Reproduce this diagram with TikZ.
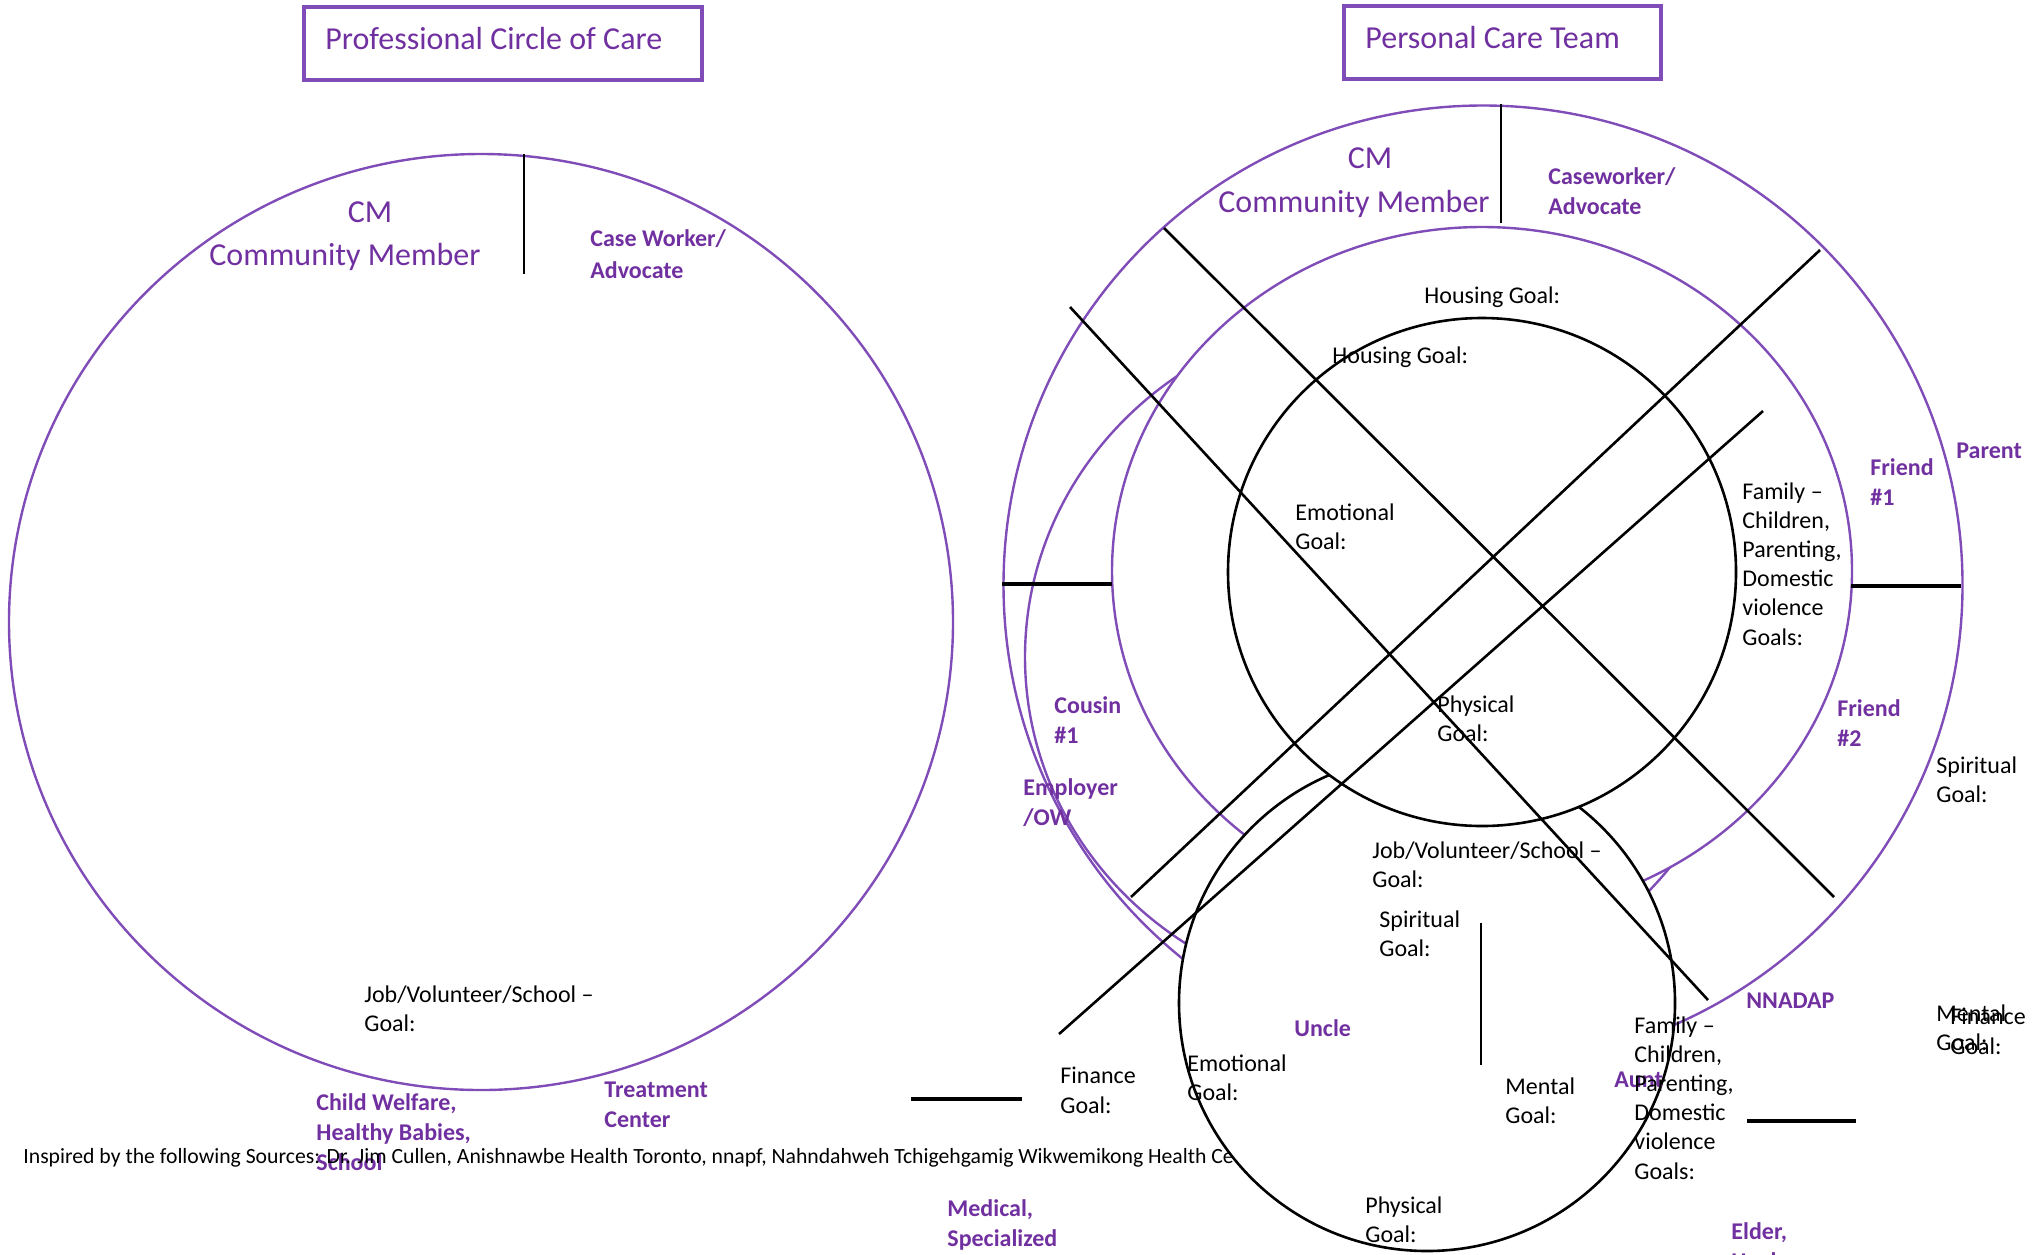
\documentclass[tikz,border=0pt]{standalone}
\usepackage{fontspec}
\setmainfont{Carlito}
\definecolor{purtext}{RGB}{112,48,160}
\definecolor{purring}{RGB}{128,76,184}
\tikzset{
  body/.style={font=\fontsize{12}{14.6}\selectfont, align=left, anchor=north west, inner sep=0pt, text=black},
  plab/.style={font=\fontsize{12}{15}\selectfont\bfseries, align=left, anchor=north west, inner sep=0pt, text=purtext},
  ptitle/.style={font=\fontsize{16}{19}\selectfont, inner sep=0pt, text=purtext},
  footer/.style={font=\fontsize{10.85}{12.5}\selectfont, inner sep=0pt, anchor=base west, text=black},
  ring/.style={draw=purring, line width=1.2pt},
  blk/.style={draw=black, line width=1.3pt},
  thicktick/.style={draw=black, line width=1.8pt},
  tbox/.style={draw=purring, line width=1.6pt},
}
\begin{document}
\begin{tikzpicture}[x=0.5pt,y=-0.5pt]
\useasboundingbox (0,0) rectangle (2032,1254);

% ---------------- Left: Professional Circle of Care ----------------
\coordinate (b1a) at (304,7); \coordinate (b1b) at (702,80);
\draw[tbox] (b1a) rectangle (b1b);
\node[ptitle, anchor=base west] (t1) at (325,49) {Professional Circle of Care};

\coordinate (lc) at (481,622);
\draw[ring] (lc) ellipse [x radius=236pt, y radius=234pt];
\coordinate (lv1) at (524,154); \coordinate (lv2) at (524,274);
\draw[blk] (lv1) -- (lv2);

\node[ptitle, anchor=center] (cm1) at (370,212) {CM};
\node[ptitle, anchor=base] (cmm1) at (345,265) {Community Member};
\node[plab, font=\fontsize{12}{16}\selectfont\bfseries] (cw1) at (590,229) {Case Worker/\\Advocate};
\node[body] (job1) at (364,985) {Job/Volunteer/School –\\Goal:};
\node[plab] (cwf) at (316,1093) {Child Welfare,\\Healthy Babies,\\School};
\node[plab] (tc) at (604,1082) {Treatment\\Center};
\node[footer] (foot) at (23,1163) {Inspired by the following Sources: Dr. Jim Cullen, Anishnawbe Health Toronto, nnapf, Nahndahweh Tchigehgamig Wikwemikong Health Ce};
\node[plab] (med) at (947,1199) {Medical,\\Specialized};
\node[body] (fin1) at (1060,1067) {Finance\\Goal:};
\coordinate (bt1a) at (911,1099); \coordinate (bt1b) at (1022,1099);
\draw[thicktick] (bt1a) -- (bt1b);

% ---------------- Right: Personal Care Team ----------------
\coordinate (b2a) at (1344,6); \coordinate (b2b) at (1661,79);
\draw[tbox] (b2a) rectangle (b2b);
\node[ptitle, anchor=base west] (t2) at (1365,48) {Personal Care Team};

\coordinate (oc) at (1483,585);
\coordinate (mc) at (1482,571);
\coordinate (sc) at (1385,657);
\coordinate (loc) at (1427,1003);
\coordinate (ic) at (1482,572);

\draw[ring] (oc) circle [radius=239.75pt];
\draw[ring] (sc) ellipse [x radius=180pt, y radius=172pt];
\draw[ring, fill=white] (mc) ellipse [x radius=185pt, y radius=172pt];
\draw[blk, fill=white] (loc) circle [radius=124pt];
\draw[blk, fill=white] (ic) circle [radius=127pt];

% ticks
\coordinate (tv1) at (1501,104); \coordinate (tv2) at (1501,223);
\draw[blk] (tv1) -- (tv2);
\coordinate (tl1) at (1002,584); \coordinate (tl2) at (1112,584);
\draw[thicktick] (tl1) -- (tl2);
\coordinate (tr1) at (1851,586); \coordinate (tr2) at (1961,586);
\draw[thicktick] (tr1) -- (tr2);
\coordinate (bt2a) at (1747,1121); \coordinate (bt2b) at (1856,1121);
\draw[thicktick] (bt2a) -- (bt2b);
\coordinate (lv3) at (1481,923); \coordinate (lv4) at (1481,1065);
\draw[blk] (lv3) -- (lv4);

% diagonals
\coordinate (d1a) at (1164,228); \coordinate (d1b) at (1834,897);
\coordinate (d2a) at (1070,307); \coordinate (d2b) at (1708,1000);
\coordinate (d3a) at (1820,250); \coordinate (d3b) at (1131,897);
\coordinate (d4a) at (1763,411); \coordinate (d4b) at (1059,1034);
\draw[blk] (d1a) -- (d1b);
\draw[blk] (d2a) -- (d2b);
\draw[blk] (d3a) -- (d3b);
\draw[blk] (d4a) -- (d4b);

% texts
\node[ptitle, anchor=center] (cm2) at (1370,158) {CM};
\node[ptitle, anchor=base] (cmm2) at (1354,212) {Community Member};
\node[plab] (cw2) at (1548,167) {Caseworker/\\Advocate};
\node[body] (hg1) at (1424,286) {Housing Goal:};
\node[body] (hg2) at (1332,346) {Housing Goal:};
\node[body] (em1) at (1295,503) {Emotional\\Goal:};
\node[body] (fam1) at (1742,482) {Family –\\Children,\\Parenting,\\Domestic\\violence\\Goals:};
\node[plab] (fr1) at (1870,458) {Friend\\\#1};
\node[plab] (par) at (1956,443) {Parent};
\node[body] (ph1) at (1437,695) {Physical\\Goal:};
\node[plab] (cou) at (1054,696) {Cousin\\\#1};
\node[plab] (emp) at (1023,778) {Employer\\/OW};
\node[plab] (fr2) at (1837,699) {Friend\\\#2};
\node[body] (sp1) at (1936,756) {Spiritual\\Goal:};
\node[body] (job2) at (1372,841) {Job/Volunteer/School –\\Goal:};
\node[body] (sp2) at (1379,910) {Spiritual\\Goal:};
\node[plab] (nna) at (1746,993) {NNADAP};
\node[body] (men1) at (1936,1004) {Mental\\Goal:};
\node[body] (fin2) at (1950,1008) {Finance\\Goal:};
\node[plab] (unc) at (1294,1019) {Uncle};
\node[body] (em2) at (1187,1054) {Emotional\\Goal:};
\node[body] (men2) at (1505,1077) {Mental\\Goal:};
\node[plab] (aunt) at (1614,1072) {Aunt};
\node[body] (fam2) at (1634,1016) {Family –\\Children,\\Parenting,\\Domestic\\violence\\Goals:};
\node[body] (ph2) at (1365,1196) {Physical\\Goal:};
\node[plab] (eld) at (1731,1222) {Elder,\\Healer};
\end{tikzpicture}
\end{document}
